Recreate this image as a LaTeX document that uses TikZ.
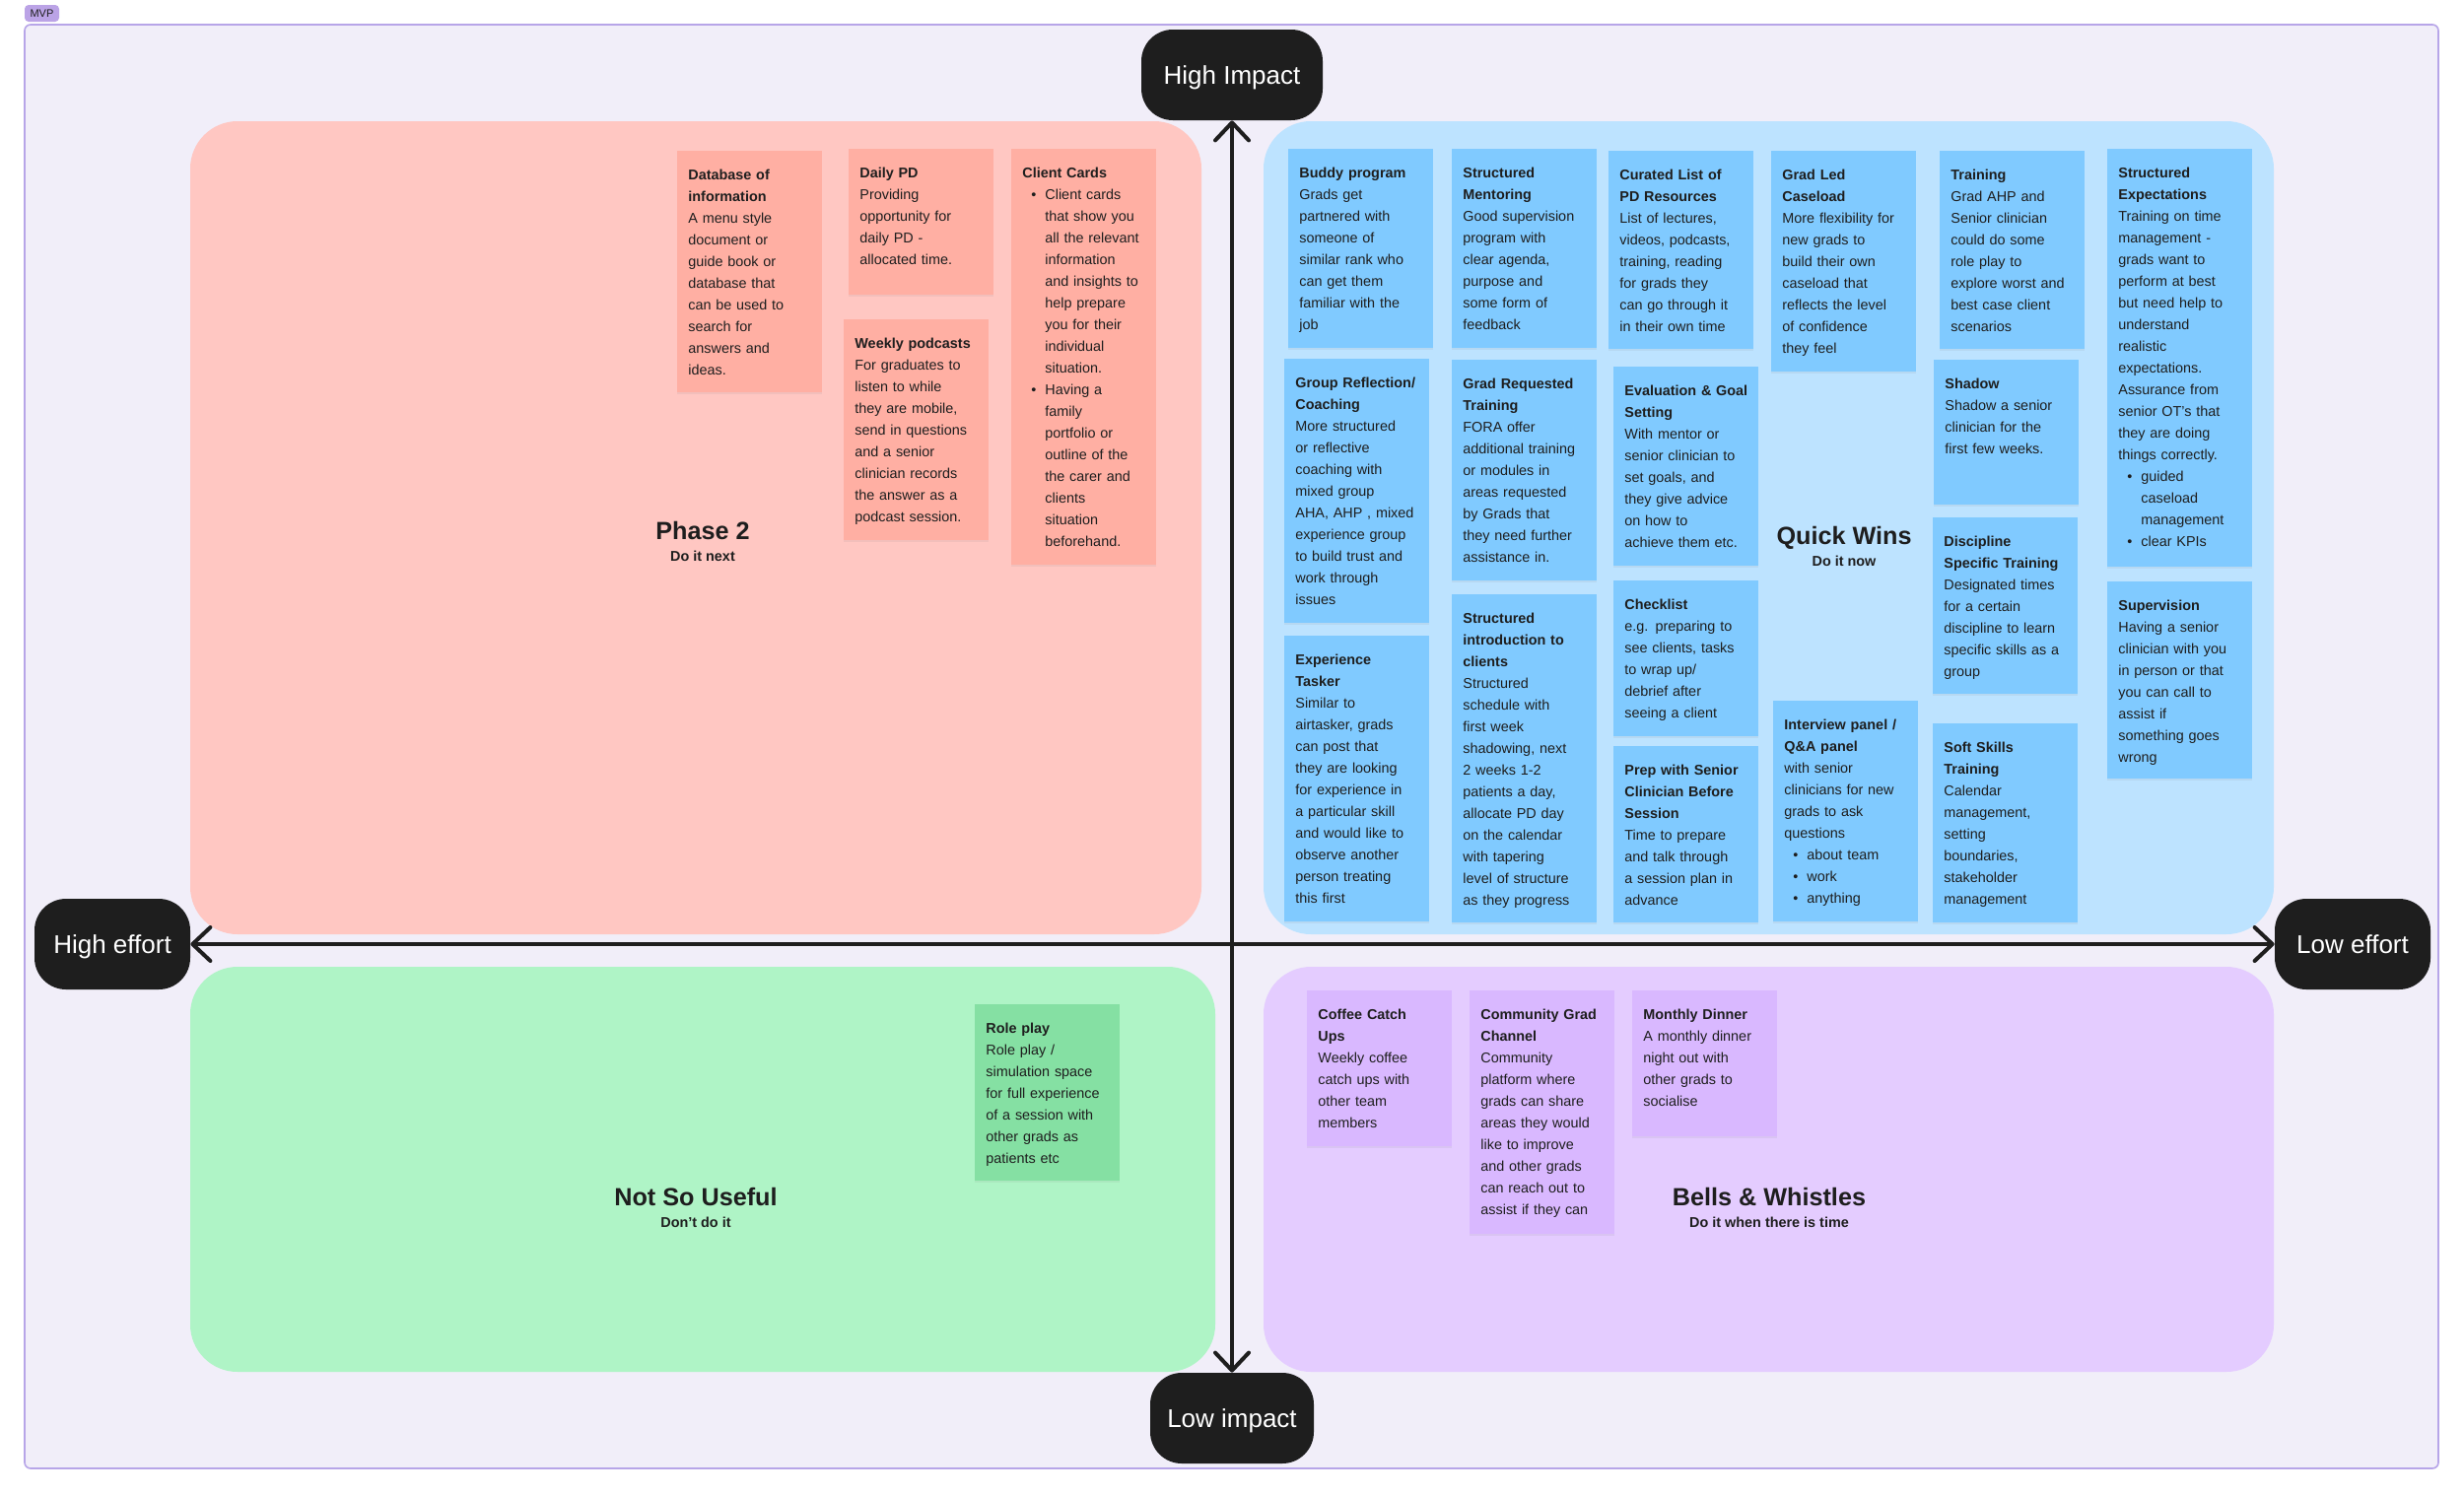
\documentclass[tikz,border=0pt]{standalone}
\usepackage{fontspec}
\setmainfont{Liberation Sans}
\usetikzlibrary{arrows.meta,shadows}

\definecolor{ink}{HTML}{1E1E1E}
\definecolor{framefill}{HTML}{F1EEF9}
\definecolor{frameline}{HTML}{B7A5E8}
\definecolor{tagfill}{HTML}{BBA3E6}
\definecolor{zonered}{HTML}{FFC7C2}
\definecolor{notered}{HTML}{FFAFA3}
\definecolor{zoneblue}{HTML}{BDE3FF}
\definecolor{noteblue}{HTML}{80CAFF}
\definecolor{zonegreen}{HTML}{AFF4C6}
\definecolor{notegreen}{HTML}{85E0A3}
\definecolor{zoneviolet}{HTML}{E4CCFF}
\definecolor{noteviolet}{HTML}{D9B8FF}

\newcommand\notefont{\fontsize{7.2}{11}\selectfont}
\newcommand\bulitem{\hspace*{4.5pt}\textbullet\hspace{4.5pt}}
\newcommand\bulrest{\hspace*{11.5pt}}

\begin{document}
\begin{tikzpicture}
	[
		x=0.5pt, y=-0.5pt,
		note/.style = {
			shape=rectangle, anchor=north west,
			inner xsep=5.5pt, inner ysep=0pt,
			text width=62.5pt, align=left,
			text height=14.5pt, font=\notefont, text=ink,
			drop shadow={shadow xshift=0pt, shadow yshift=-1pt, opacity=.1}
		},
		rednote/.style={note, fill=notered},
		bluenote/.style={note, fill=noteblue},
		greennote/.style={note, fill=notegreen},
		violetnote/.style={note, fill=noteviolet},
		zonetitle/.style={anchor=base, inner sep=0pt, text=ink,
			font=\bfseries\fontsize{12.6}{14}\selectfont},
		zonesub/.style={anchor=base, inner sep=0pt, text=ink,
			font=\bfseries\fontsize{7.2}{9}\selectfont},
		axislabel/.style={shape=rectangle, rounded corners=16pt, fill=ink,
			text=white, minimum height=46pt, inner xsep=0pt,
			text height=9.3pt, text depth=0pt,
			font=\fontsize{13}{15}\selectfont},
		axis/.style={draw=ink, line width=2pt,
			>={Straight Barb[length=9pt,width=17pt,round]}, <->}
	]
	\fill[white] (0,0) rectangle (2500,1516);
	\useasboundingbox (0,0) rectangle (2500,1516);

	% board
	\draw[frameline, fill=framefill, line width=0.8pt, rounded corners=3pt]
		(25,25) rectangle (2474,1490);
	\node[fill=tagfill, rounded corners=2pt, minimum width=17.5pt,
		minimum height=8.5pt, inner sep=0pt, text=ink,
		font=\fontsize{5.5}{6}\selectfont] (mvp) at (42.5,13.5) {MVP};

	% quadrants
	\fill[zonered, rounded corners=24pt] (193,123) rectangle (1219,948);
	\fill[zoneblue, rounded corners=24pt] (1282,123) rectangle (2307,948);
	\fill[zonegreen, rounded corners=24pt] (193,981) rectangle (1233,1392);
	\fill[zoneviolet, rounded corners=24pt] (1282,981) rectangle (2307,1392);

	\node[zonetitle] (phase) at (713,547) {Phase 2};
	\node[zonesub] (phase-sub) at ([yshift=-11pt]phase.base) {Do it next};
	\node[zonetitle] (wins) at (1871,552) {Quick Wins};
	\node[zonesub] (wins-sub) at ([yshift=-11pt]wins.base) {Do it now};
	\node[zonetitle] (useless) at (706,1223) {Not So Useful};
	\node[zonesub] (useless-sub) at ([yshift=-11pt]useless.base) {Don't do it};
	\node[zonetitle] (bells) at (1795,1223) {Bells \& Whistles};
	\node[zonesub] (bells-sub) at ([yshift=-11pt]bells.base) {Do it when there is time};

	% phase 2
	\node[rednote, text depth=108pt] (database) at (687,153)
		{\textbf{Database of\\information}\\A menu style\\document or\\guide book or\\database that\\can be used to\\search for\\answers and\\ideas.};
	\node[rednote, text depth=59.5pt] (dailypd) at (861,151)
		{\textbf{Daily PD}\\Providing\\opportunity for\\daily PD -\\allocated time.};
	\node[rednote, text depth=97.5pt] (podcasts) at (856,324)
		{\textbf{Weekly podcasts}\\For graduates to\\listen to while\\they are mobile,\\send in questions\\and a senior\\clinician records\\the answer as a\\podcast session.};
	\node[rednote, text depth=196.5pt] (clientcards) at (1026,151)
		{\textbf{Client Cards}\\
		\bulitem Client cards\\ \bulrest that show you\\ \bulrest all the relevant\\ \bulrest information\\ \bulrest and insights to\\ \bulrest help prepare\\ \bulrest you for their\\ \bulrest individual\\ \bulrest situation.\\
		\bulitem Having a\\ \bulrest family\\ \bulrest portfolio or\\ \bulrest outline of the\\ \bulrest the carer and\\ \bulrest clients\\ \bulrest situation\\ \bulrest beforehand.};

	% quick wins
	\node[bluenote, text depth=86.5pt] (buddy) at (1307,151)
		{\textbf{Buddy program}\\Grads get\\partnered with\\someone of\\similar rank who\\can get them\\familiar with the\\job};
	\node[bluenote, text depth=86.5pt] (mentoring) at (1473,151)
		{\textbf{Structured\\Mentoring}\\Good supervision\\program with\\clear agenda,\\purpose and\\some form of\\feedback};
	\node[bluenote, text depth=119.5pt] (reflection) at (1303,364)
		{\textbf{Group Reflection/\\Coaching}\\More structured\\or reflective\\coaching with\\mixed group\\AHA, AHP , mixed\\experience group\\to build trust and\\work through\\issues};
	\node[bluenote, text depth=97.5pt] (requested) at (1473,365)
		{\textbf{Grad Requested\\Training}\\FORA offer\\additional training\\or modules in\\areas requested\\by Grads that\\they need further\\assistance in.};
	\node[bluenote, text depth=130.5pt] (tasker) at (1303,645)
		{\textbf{Experience\\Tasker}\\Similar to\\airtasker, grads\\can post that\\they are looking\\for experience in\\a particular skill\\and would like to\\observe another\\person treating\\this first};
	\node[bluenote, text depth=152pt] (introduction) at (1473,603)
		{\textbf{Structured\\introduction to\\clients}\\Structured\\schedule with\\first week\\shadowing, next\\2 weeks 1-2\\patients a day,\\allocate PD day\\on the calendar\\with tapering\\level of structure\\as they progress};
	\node[bluenote, text depth=86pt] (curated) at (1632,153)
		{\textbf{Curated List of\\PD Resources}\\List of lectures,\\videos, podcasts,\\training, reading\\for grads they\\can go through it\\in their own time};
	\node[bluenote, text depth=97.5pt] (caseload) at (1797,153)
		{\textbf{Grad Led\\Caseload}\\More flexibility for\\new grads to\\build their own\\caseload that\\reflects the level\\of confidence\\they feel};
	\node[bluenote, text depth=86.5pt] (goals) at (1637,372)
		{\textbf{Evaluation \& Goal\\Setting}\\With mentor or\\senior clinician to\\set goals, and\\they give advice\\on how to\\achieve them etc.};
	\node[bluenote, text depth=64.5pt] (checklist) at (1637,589)
		{\textbf{Checklist}\\e.g. preparing to\\see clients, tasks\\to wrap up/\\debrief after\\seeing a client};
	\node[bluenote, text depth=75pt] (prep) at (1637,757)
		{\textbf{Prep with Senior\\Clinician Before\\Session}\\Time to prepare\\and talk through\\a session plan in\\advance};
	\node[bluenote, text depth=97.5pt] (interview) at (1799,711)
		{\textbf{Interview panel /\\Q\&A panel}\\with senior\\clinicians for new\\grads to ask\\questions\\
		\bulitem about team\\ \bulitem work\\ \bulitem anything};
	\node[bluenote, text depth=86pt] (training) at (1968,153)
		{\textbf{Training}\\Grad AHP and\\Senior clinician\\could do some\\role play to\\explore worst and\\best case client\\scenarios};
	\node[bluenote, text depth=59pt] (shadow) at (1962,365)
		{\textbf{Shadow}\\Shadow a senior\\clinician for the\\first few weeks.};
	\node[bluenote, text depth=75pt] (discipline) at (1961,525)
		{\textbf{Discipline\\Specific Training}\\Designated times\\for a certain\\discipline to learn\\specific skills as a\\group};
	\node[bluenote, text depth=86.5pt] (softskills) at (1961,734)
		{\textbf{Soft Skills\\Training}\\Calendar\\management,\\setting\\boundaries,\\stakeholder\\management};
	\node[bluenote, text depth=197.5pt] (expectations) at (2138,151)
		{\textbf{Structured\\Expectations}\\Training on time\\management -\\grads want to\\perform at best\\but need help to\\understand\\realistic\\expectations.\\Assurance from\\senior OT's that\\they are doing\\things correctly.\\
		\bulitem guided\\ \bulrest caseload\\ \bulrest management\\ \bulitem clear KPIs};
	\node[bluenote, text depth=85.5pt] (supervision) at (2138,590)
		{\textbf{Supervision}\\Having a senior\\clinician with you\\in person or that\\you can call to\\assist if\\something goes\\wrong};

	% not so useful
	\node[greennote, text depth=75pt] (roleplay) at (989,1019)
		{\textbf{Role play}\\Role play /\\simulation space\\for full experience\\of a session with\\other grads as\\patients etc};

	% bells and whistles
	\node[violetnote, text depth=64.5pt] (coffee) at (1326,1005)
		{\textbf{Coffee Catch\\Ups}\\Weekly coffee\\catch ups with\\other team\\members};
	\node[violetnote, text depth=109pt] (community) at (1491,1005)
		{\textbf{Community Grad\\Channel}\\Community\\platform where\\grads can share\\areas they would\\like to improve\\and other grads\\can reach out to\\assist if they can};
	\node[violetnote, text depth=59.5pt] (dinner) at (1656,1005)
		{\textbf{Monthly Dinner}\\A monthly dinner\\night out with\\other grads to\\socialise};

	% axes
	\node[axislabel, minimum width=92pt] (high-impact) at (1250,76) {High Impact};
	\node[axislabel, minimum width=83pt] (low-impact) at (1250,1439) {Low impact};
	\node[axislabel, minimum width=79pt] (high-effort) at (114,958) {High effort};
	\node[axislabel, minimum width=79pt] (low-effort) at (2387,958) {Low effort};
	\draw[axis] (high-impact) -- (low-impact);
	\draw[axis] (high-effort) -- (low-effort);
\end{tikzpicture}
\end{document}
